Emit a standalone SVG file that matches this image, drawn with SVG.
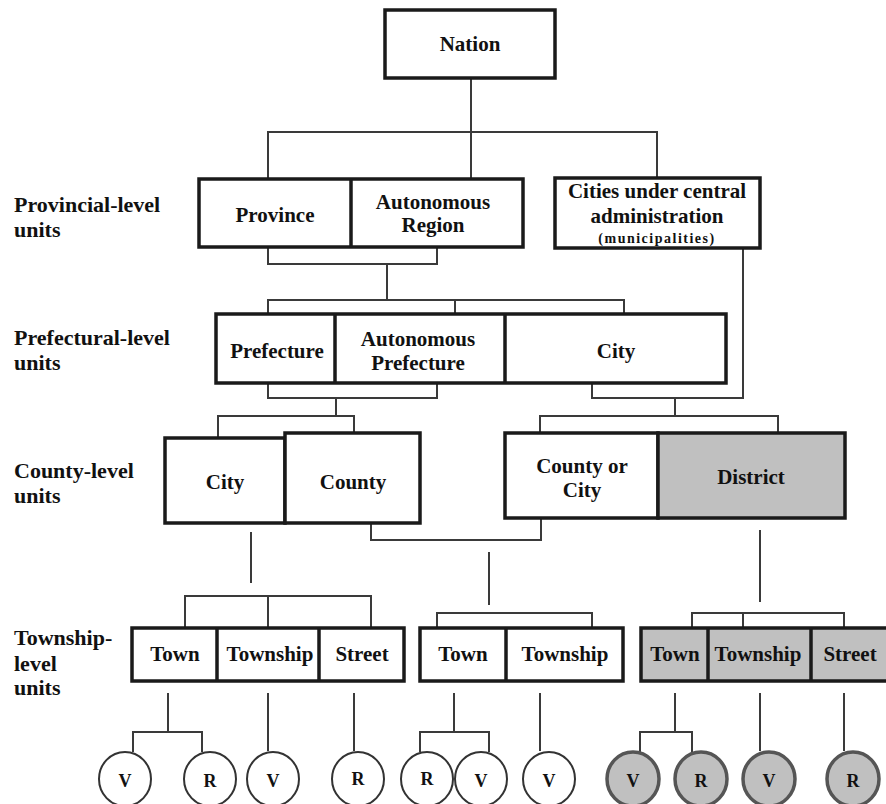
<svg xmlns="http://www.w3.org/2000/svg" width="886" height="804" viewBox="0 0 886 804">
<style>
text{font-family:"Liberation Serif","Times New Roman",serif;font-weight:bold;fill:#111;}
.lbl{font-size:22px;}
.t{font-size:21px;text-anchor:middle;}
.s{font-size:14px;text-anchor:middle;letter-spacing:1.5px;}
.c{font-size:18px;text-anchor:middle;}
.box{fill:#fff;stroke:#1a1a1a;stroke-width:3.5;}
.gbox{fill:#c0c0c0;stroke:#1a1a1a;stroke-width:3.5;}
.div{stroke:#1a1a1a;stroke-width:3.5;fill:none;}
.con path{fill:none;stroke:#3a3a3a;stroke-width:2;}
.cw{fill:#fff;stroke:#333;stroke-width:2;}
.cg{fill:#c0c0c0;stroke:#555;stroke-width:3.5;}
</style>
<rect width="886" height="804" fill="#fff"/>

<g id="level-labels">
<text class="lbl" x="14" y="212">Provincial-level</text>
<text class="lbl" x="14" y="237">units</text>
<text class="lbl" x="14" y="345">Prefectural-level</text>
<text class="lbl" x="14" y="370">units</text>
<text class="lbl" x="14" y="478">County-level</text>
<text class="lbl" x="14" y="503">units</text>
<text class="lbl" x="14" y="645">Township-</text>
<text class="lbl" x="14" y="671">level</text>
<text class="lbl" x="14" y="695">units</text>
</g>

<g id="connectors" class="con">
<path d="M471,78 V132"/>
<path d="M268,179 V132 H657 V179"/>
<path d="M471,132 V179"/>
<path d="M268,247 V264 H437 V247"/>
<path d="M387,264 V300"/>
<path d="M268,314 V300 H624 V314"/>
<path d="M455,300 V314"/>
<path d="M268,383 V398 H437 V383"/>
<path d="M336,398 V416"/>
<path d="M218,438 V416 H354 V433"/>
<path d="M592,383 V398 H743 V248"/>
<path d="M675,398 V416"/>
<path d="M540,433 V416 H778 V433"/>
<path d="M371,523 V540 H541 V518"/>
<path d="M251,532 V583"/>
<path d="M489,552 V605"/>
<path d="M760,530 V602"/>
<path d="M185,628 V596 H371 V628"/>
<path d="M268,596 V628"/>
<path d="M437,628 V613 H592 V628"/>
<path d="M692,628 V613 H844 V628"/>
<path d="M743,613 V628"/>
<path d="M168,693 V732"/>
<path d="M133,752 V732 H202 V752"/>
<path d="M268,693 V751"/>
<path d="M354,693 V751"/>
<path d="M454,693 V732"/>
<path d="M420,752 V732 H489 V752"/>
<path d="M540,693 V751"/>
<path d="M675,693 V732"/>
<path d="M640,752 V732 H692 V752"/>
<path d="M760,693 V751"/>
<path d="M844,693 V751"/>
</g>

<g id="nation">
<rect class="box" x="385" y="10" width="170" height="68"/>
<text class="t" x="470" y="51">Nation</text>
</g>

<g id="provincial">
<rect class="box" x="199" y="179" width="324" height="68"/>
<path class="div" d="M351,179 V247"/>
<text class="t" x="275" y="222">Province</text>
<text class="t" x="433" y="209">Autonomous</text>
<text class="t" x="433" y="232">Region</text>
</g>

<g id="municipalities">
<rect class="box" x="555" y="178" width="205" height="70"/>
<text class="t" x="657" y="198">Cities under central</text>
<text class="t" x="657" y="223">administration</text>
<text class="s" x="657" y="243">(municipalities)</text>
</g>

<g id="prefectural">
<rect class="box" x="216" y="314" width="510" height="69"/>
<path class="div" d="M335,314 V383 M505,314 V383"/>
<text class="t" x="277" y="358">Prefecture</text>
<text class="t" x="418" y="346">Autonomous</text>
<text class="t" x="418" y="370">Prefecture</text>
<text class="t" x="616" y="358">City</text>
</g>

<g id="county-city">
<rect class="box" x="165" y="438" width="120" height="85"/>
<text class="t" x="225" y="489">City</text>
</g>
<g id="county">
<rect class="box" x="285" y="433" width="135" height="90"/>
<text class="t" x="353" y="489">County</text>
</g>

<g id="county-or-city">
<rect class="box" x="505" y="433" width="153" height="85"/>
<text class="t" x="582" y="473">County or</text>
<text class="t" x="582" y="497">City</text>
</g>
<g id="district">
<rect class="gbox" x="658" y="433" width="187" height="85"/>
<text class="t" x="751" y="484">District</text>
</g>

<g id="township-left">
<rect class="box" x="132" y="628" width="272" height="53"/>
<path class="div" d="M217,628 V681 M319,628 V681"/>
<text class="t" x="175" y="661">Town</text>
<text class="t" x="270" y="661">Township</text>
<text class="t" x="362" y="661">Street</text>
</g>

<g id="township-middle">
<rect class="box" x="420" y="628" width="203" height="53"/>
<path class="div" d="M506,628 V681"/>
<text class="t" x="463" y="661">Town</text>
<text class="t" x="565" y="661">Township</text>
</g>

<g id="township-right">
<rect class="gbox" x="641" y="628" width="252" height="53"/>
<path class="div" d="M708,628 V681 M811,628 V681"/>
<text class="t" x="675" y="661">Town</text>
<text class="t" x="758" y="661">Township</text>
<text class="t" x="850" y="661">Street</text>
</g>

<g id="villages">
<g id="c1"><ellipse class="cw" cx="125" cy="779" rx="26" ry="27"/><text class="c" x="125" y="787">V</text></g>
<g id="c2"><ellipse class="cw" cx="210" cy="779" rx="26" ry="27"/><text class="c" x="210" y="787">R</text></g>
<g id="c3"><ellipse class="cw" cx="273" cy="779" rx="26" ry="27"/><text class="c" x="273" y="787">V</text></g>
<g id="c4"><ellipse class="cw" cx="358" cy="779" rx="26" ry="27"/><text class="c" x="358" y="785">R</text></g>
<g id="c5"><ellipse class="cw" cx="427" cy="779" rx="26" ry="27"/><text class="c" x="427" y="785">R</text></g>
<g id="c6"><ellipse class="cw" cx="481" cy="779" rx="26" ry="27"/><text class="c" x="481" y="787">V</text></g>
<g id="c7"><ellipse class="cw" cx="549" cy="779" rx="26" ry="27"/><text class="c" x="549" y="787">V</text></g>
<g id="c8"><ellipse class="cg" cx="633" cy="779" rx="26" ry="27"/><text class="c" x="633" y="787">V</text></g>
<g id="c9"><ellipse class="cg" cx="701" cy="779" rx="26" ry="27"/><text class="c" x="701" y="787">R</text></g>
<g id="c10"><ellipse class="cg" cx="769" cy="779" rx="26" ry="27"/><text class="c" x="769" y="787">V</text></g>
<g id="c11"><ellipse class="cg" cx="853" cy="779" rx="26" ry="27"/><text class="c" x="853" y="787">R</text></g>
</g>
</svg>
